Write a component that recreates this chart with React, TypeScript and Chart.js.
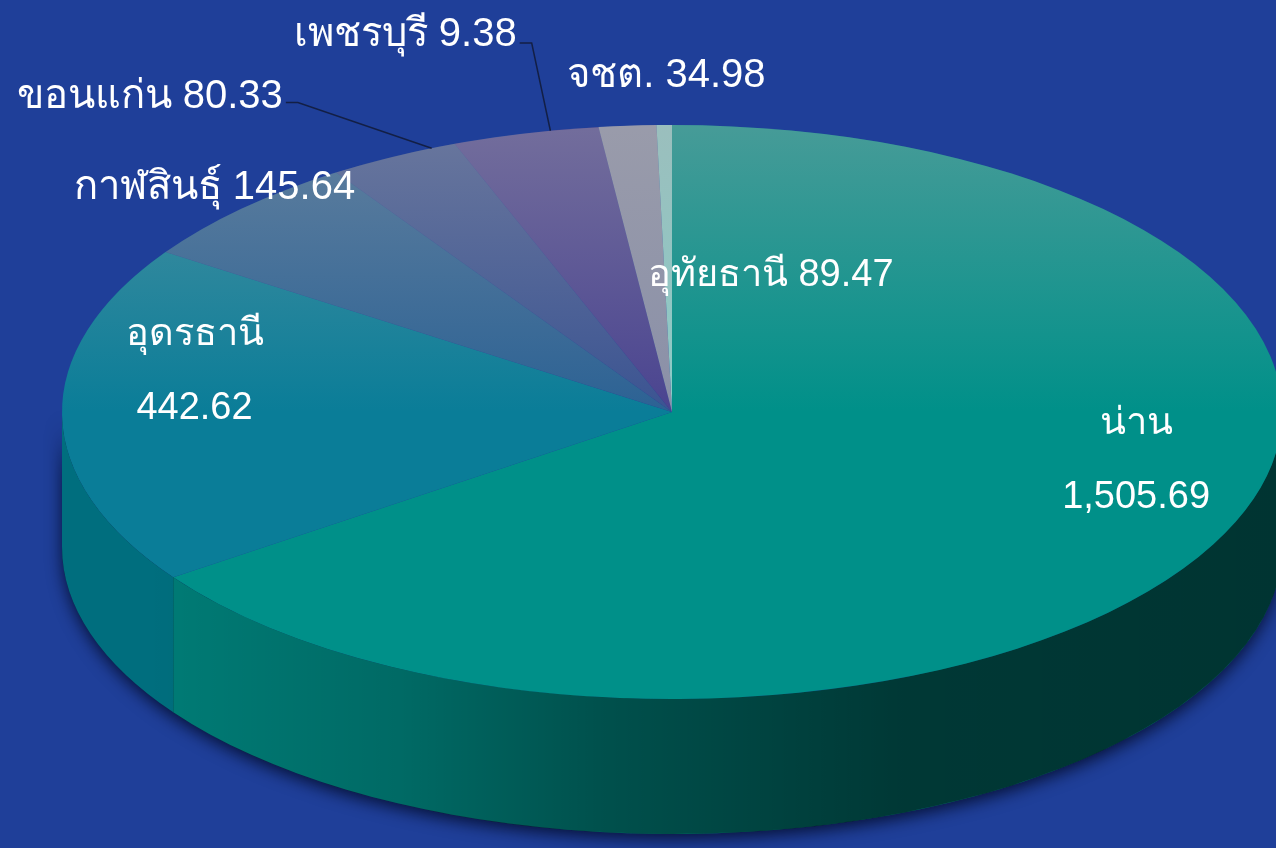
import React, { useEffect, useRef } from 'react';
import { Chart, registerables } from 'chart.js';

Chart.register(...registerables);

// ---- data ----
const provinces = ['น่าน', 'อุดรธานี', 'กาฬสินธุ์', 'ขอนแก่น', 'อุทัยธานี', 'จชต.', 'เพชรบุรี'];
const values = [1505.69, 442.62, 145.64, 80.33, 89.47, 34.98, 9.38];

// ---- styles ----
const faceColors = ['#009089', '#0a7d98', '#2c6294', '#3b5492', '#4a4490', '#8a90a8', '#8ccbc7'];
const sideColors = ['#007c76', '#006e7e', '#225a88', '#344c86', '#403c84', '#7a8098', '#78b4b0'];
const BG = '#1f3f99';
const W = 1276;
const H = 848;
const RADIUS = 610;
const TILT = 287 / 610;
const DEPTH = 135;

// label layout: [radius fraction, dx, dy, twoLines, outside]
const labelLayout: [number, number, number, boolean, boolean][] = [
  [0.75, 58, -51, true, false],
  [0.75, -20, -43, true, false],
  [1, -28, -20, false, true],
  [1, -244, -60, false, true],
  [0.5, 172, 3, false, false],
  [1, 39, -50, false, true],
  [1, -259, -90, false, true],
];
// leader lines: label index -> rim angle (deg, clockwise from top)
const leaders: { index: number; angle: number; dy: number }[] = [
  { index: 3, angle: 336.8, dy: 6 },
  { index: 6, angle: 348.5, dy: 8 },
];

const fmt = new Intl.NumberFormat('en-US', { minimumFractionDigits: 2, maximumFractionDigits: 2 });
const INSIDE_FONT = '38px "Liberation Sans", Arial, sans-serif';
const OUTSIDE_FONT = '40px "Liberation Sans", Arial, sans-serif';

const pie3d = {
  id: 'pie3d',
  beforeDatasetsDraw(chart: any) {
    const ctx: CanvasRenderingContext2D = chart.ctx;
    const arcs = chart.getDatasetMeta(0).data as any[];
    if (!arcs.length) return;
    const cx = arcs[0].x, cy = arcs[0].y, rx = arcs[0].outerRadius;
    const ry = rx * TILT;

    const frontPath = (a: number, b: number) => {
      ctx.beginPath();
      ctx.ellipse(cx, cy, rx, ry, 0, a, b, false);
      ctx.ellipse(cx, cy + DEPTH, rx, ry, 0, b, a, true);
      ctx.closePath();
    };

    // drop shadow
    ctx.save();
    frontPath(0, Math.PI);
    ctx.shadowColor = 'rgba(4,10,40,0.85)';
    ctx.shadowBlur = 16;
    ctx.shadowOffsetY = 5;
    ctx.fillStyle = '#0b2a3a';
    ctx.fill();
    ctx.restore();

    // side walls
    arcs.forEach((arc: any, i: number) => {
      const a = Math.max(arc.startAngle, 0);
      const b = Math.min(arc.endAngle, Math.PI);
      if (b <= a) return;
      frontPath(a, b);
      ctx.fillStyle = sideColors[i];
      ctx.fill();
    });
    // side shading
    const g = ctx.createLinearGradient(cx - rx, 0, cx + rx, 0);
    g.addColorStop(0, 'rgba(0,0,0,0)');
    g.addColorStop(0.07, 'rgba(0,0,0,0)');
    g.addColorStop(0.28, 'rgba(0,0,0,0.15)');
    g.addColorStop(0.44, 'rgba(0,0,0,0.35)');
    g.addColorStop(0.6, 'rgba(0,0,0,0.48)');
    g.addColorStop(0.69, 'rgba(0,0,0,0.55)');
    g.addColorStop(1, 'rgba(0,0,0,0.58)');
    frontPath(0, Math.PI);
    ctx.fillStyle = g;
    ctx.fill();

    ctx.save();
    ctx.translate(cx, cy);
    ctx.scale(1, TILT);
    ctx.translate(-cx, -cy);
  },
  afterDatasetsDraw(chart: any) {
    const ctx: CanvasRenderingContext2D = chart.ctx;
    const arcs = chart.getDatasetMeta(0).data as any[];
    if (!arcs.length) return;
    ctx.restore();
    const cx = arcs[0].x, cy = arcs[0].y, rx = arcs[0].outerRadius;
    const ry = rx * TILT;

    // top face light overlay
    const g = ctx.createLinearGradient(0, cy - ry, 0, cy + ry);
    g.addColorStop(0, 'rgba(176,172,174,0.4)');
    g.addColorStop(0.5, 'rgba(176,172,174,0)');
    g.addColorStop(1, 'rgba(176,172,174,0)');
    ctx.beginPath();
    ctx.ellipse(cx, cy, rx, ry, 0, 0, Math.PI * 2);
    ctx.fillStyle = g;
    ctx.fill();

    // labels
    const pos: { x: number; y: number; w: number }[] = [];
    arcs.forEach((arc: any, i: number) => {
      const [f, dx, dy, two, outside] = labelLayout[i];
      const mid = (arc.startAngle + arc.endAngle) / 2;
      const x = cx + f * rx * Math.cos(mid) + dx;
      const y = cy + f * ry * Math.sin(mid) + dy;
      ctx.font = outside ? OUTSIDE_FONT : INSIDE_FONT;
      ctx.fillStyle = '#ffffff';
      ctx.textAlign = 'center';
      ctx.textBaseline = 'middle';
      const val = fmt.format(values[i]);
      if (two) {
        ctx.fillText(provinces[i], x, y - 37);
        ctx.fillText(val, x, y + 37);
        pos[i] = { x, y, w: 0 };
      } else {
        const t = provinces[i] + ' ' + val;
        ctx.fillText(t, x, y);
        pos[i] = { x, y, w: ctx.measureText(t).width };
      }
    });

    // leader lines
    ctx.strokeStyle = 'rgba(18,28,60,0.9)';
    ctx.lineWidth = 1.5;
    leaders.forEach(({ index, angle, dy }) => {
      const p = pos[index];
      const sx = p.x + p.w / 2 + 3;
      const sy = p.y + dy;
      const th = ((angle - 90) * Math.PI) / 180;
      const ex = cx + rx * Math.cos(th);
      const ey = cy + ry * Math.sin(th);
      ctx.beginPath();
      ctx.moveTo(sx, sy);
      ctx.lineTo(sx + 12, sy);
      ctx.lineTo(ex, ey);
      ctx.stroke();
    });
  },
};

export default function App() {
  const ref = useRef<HTMLCanvasElement>(null);
  useEffect(() => {
    document.body.style.margin = '0';
    document.body.style.background = BG;
    const canvas = ref.current!;
    const chart = new Chart(canvas, {
      type: 'pie',
      data: {
        labels: provinces,
        datasets: [
          {
            data: values,
            backgroundColor: faceColors,
            borderWidth: 0,
            clip: false,
            radius: RADIUS,
          } as any,
        ],
      },
      options: {
        responsive: false,
        maintainAspectRatio: false,
        animation: false,
        radius: RADIUS,
        events: [],
        layout: { padding: { left: 68, right: 0, top: 0, bottom: 24 } },
        plugins: { legend: { display: false }, tooltip: { enabled: false } },
      } as any,
      plugins: [pie3d],
    });
    return () => chart.destroy();
  }, []);
  return (
    <div style={{ position: 'fixed', left: 0, top: 0, width: W, height: H, background: BG, overflow: 'hidden' }}>
      <canvas ref={ref} width={W} height={H} style={{ display: 'block', width: W, height: H }} />
    </div>
  );
}
